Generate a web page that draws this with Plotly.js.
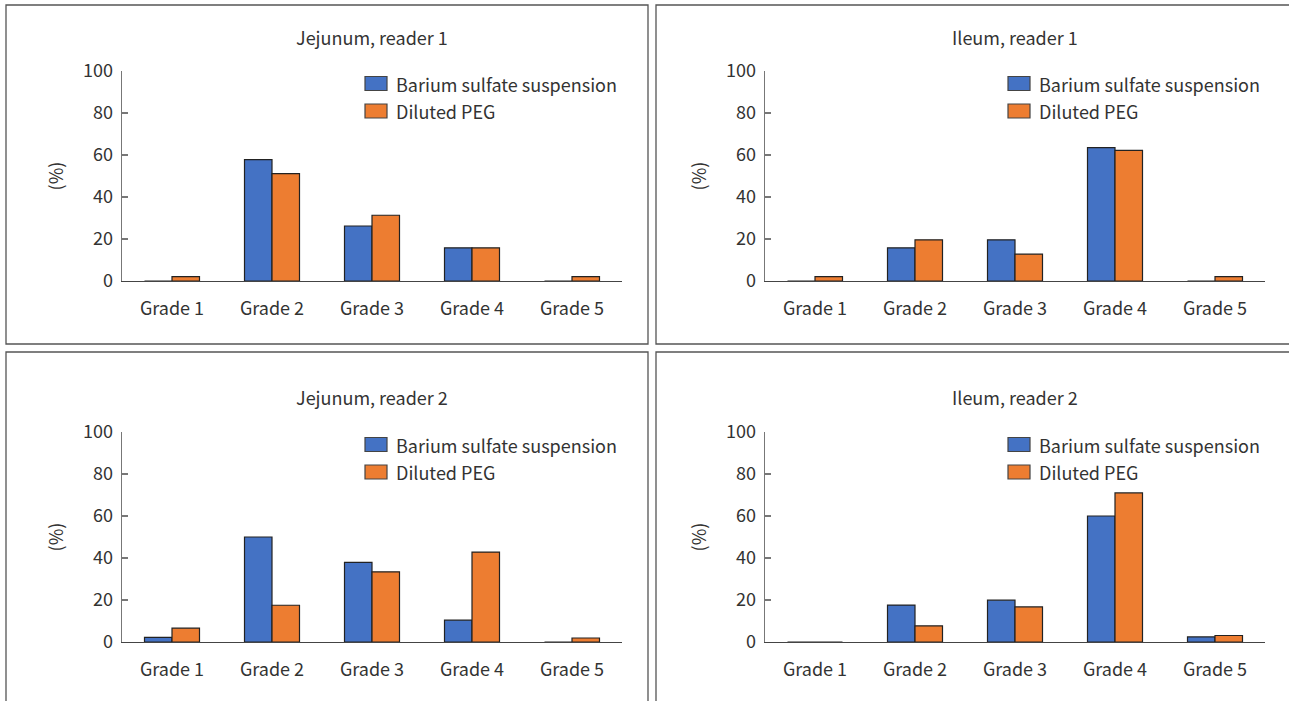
<!DOCTYPE html>
<html>
<head>
<meta charset="utf-8">
<script src="https://cdn.plot.ly/plotly-3.0.1.min.js"></script>
<style>
  html, body { margin: 0; padding: 0; background: #fff; }
  #chart { width: 1289px; height: 701px; }
</style>
</head>
<body>
<div id="chart"></div>
<script>
// ---- data ----
const categories = ['Grade 1', 'Grade 2', 'Grade 3', 'Grade 4', 'Grade 5'];
const seriesNames = ['Barium sulfate suspension', 'Diluted PEG'];
const panelTitles = ['Jejunum, reader 1', 'Ileum, reader 1', 'Jejunum, reader 2', 'Ileum, reader 2'];
const yTickVals = [0, 20, 40, 60, 80, 100];
const yAxisLabel = '(%)';

const jejunumR1Barium = [0, 57.8, 26.2, 15.8, 0];
const jejunumR1Peg    = [2.1, 51.1, 31.3, 15.8, 2.1];
const ileumR1Barium   = [0, 15.8, 19.6, 63.5, 0];
const ileumR1Peg      = [2.1, 19.6, 12.8, 62.2, 2.1];
const jejunumR2Barium = [2.2, 50.0, 37.9, 10.4, 0];
const jejunumR2Peg    = [6.6, 17.5, 33.4, 42.8, 1.9];
const ileumR2Barium   = [0, 17.6, 19.9, 60.0, 2.4];
const ileumR2Peg      = [0, 7.7, 16.7, 71.0, 3.1];

// ---- layout helpers ----
const W = 1289, H = 701;
const fx = px => px / W;
const fy = py => 1 - py / H;

const FONT = '"Noto Sans CJK KR", "Noto Sans", sans-serif';
const FS = 18;
const TEXT = '#333333';
const colors = ['#4472C4', '#ED7D31'];

const panels = [
  { title: panelTitles[0], data: [jejunumR1Barium, jejunumR1Peg], l: 122, r: 622, t: 71, b: 281, ty: 37, box: [6, 5, 648, 344] },
  { title: panelTitles[1], data: [ileumR1Barium, ileumR1Peg],     l: 765, r: 1265, t: 71, b: 281, ty: 37, box: [656, 5, 1300, 344] },
  { title: panelTitles[2], data: [jejunumR2Barium, jejunumR2Peg], l: 122, r: 622, t: 432, b: 642, ty: 397, box: [6, 352, 648, 710] },
  { title: panelTitles[3], data: [ileumR2Barium, ileumR2Peg],     l: 765, r: 1265, t: 432, b: 642, ty: 397, box: [656, 352, 1300, 710] }
];

const traces = [];
const layout = {
  width: W, height: H,
  margin: { l: 0, r: 0, t: 0, b: 0, pad: 0 },
  paper_bgcolor: '#ffffff',
  plot_bgcolor: '#ffffff',
  barmode: 'group',
  bargap: 0.45,
  bargroupgap: 0,
  showlegend: false,
  font: { family: FONT, size: FS, color: TEXT },
  shapes: [],
  annotations: []
};

panels.forEach((p, i) => {
  const n = i === 0 ? '' : String(i + 1);
  const xa = 'x' + n, ya = 'y' + n;
  p.data.forEach((vals, s) => {
    traces.push({
      type: 'bar',
      x: categories,
      y: vals,
      name: seriesNames[s],
      xaxis: xa, yaxis: ya,
      marker: { color: colors[s], line: { color: '#222222', width: 1.2 } },
      hoverinfo: 'x+y+name'
    });
  });
  layout['xaxis' + n] = {
    domain: [fx(p.l), fx(p.r)],
    anchor: ya,
    type: 'category',
    categoryarray: categories,
    showline: true, linecolor: '#444444', linewidth: 1.3,
    ticks: '', showgrid: false, zeroline: false,
    tickfont: { family: FONT, size: FS, color: TEXT },
    ticklabelstandoff: 11,
    fixedrange: true
  };
  layout['yaxis' + n] = {
    domain: [fy(p.b), fy(p.t)],
    anchor: xa,
    range: [0, 100],
    tickvals: yTickVals,
    showline: true, linecolor: '#777777', linewidth: 1.3,
    ticks: 'inside', ticklen: 6, tickwidth: 1.3, tickcolor: '#777777',
    showgrid: false, zeroline: false,
    tickfont: { family: FONT, size: FS, color: TEXT },
    ticklabelstandoff: 4,
    title: { text: yAxisLabel, font: { family: FONT, size: FS, color: TEXT }, standoff: 14 },
    fixedrange: true
  };
  // panel frame
  layout.shapes.push({
    type: 'rect', xref: 'paper', yref: 'paper',
    x0: fx(p.box[0]), x1: fx(p.box[2]), y0: fy(p.box[3]), y1: fy(p.box[1]),
    line: { color: '#555555', width: 1.3 }, fillcolor: 'rgba(0,0,0,0)', layer: 'below'
  });
  // panel title
  layout.annotations.push({
    xref: 'paper', yref: 'paper',
    x: fx((p.l + p.r) / 2), y: fy(p.ty),
    xanchor: 'center', yanchor: 'middle',
    text: p.title, showarrow: false,
    font: { family: FONT, size: FS, color: TEXT }
  });
  // legend (swatch + label) per panel
  seriesNames.forEach((name, s) => {
    const sx0 = p.l + 243, sy0 = p.t + 5.5 + s * 27.5;
    layout.shapes.push({
      type: 'rect', xref: 'paper', yref: 'paper',
      x0: fx(sx0), x1: fx(sx0 + 22), y0: fy(sy0 + 14), y1: fy(sy0),
      line: { color: '#444444', width: 1.2 }, fillcolor: colors[s]
    });
    layout.annotations.push({
      xref: 'paper', yref: 'paper',
      x: fx(sx0 + 29), y: fy(sy0 + 7),
      xanchor: 'left', yanchor: 'middle',
      text: name, showarrow: false,
      font: { family: FONT, size: FS, color: TEXT }
    });
  });
});

Plotly.newPlot('chart', traces, layout, { displayModeBar: false, staticPlot: true });
</script>
</body>
</html>
